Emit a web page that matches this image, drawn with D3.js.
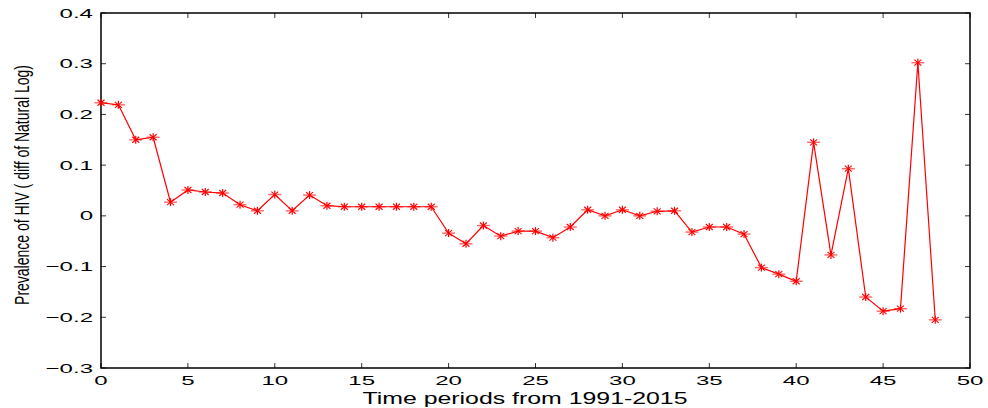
<!DOCTYPE html>
<html>
<head>
<meta charset="utf-8">
<script src="https://cdn.jsdelivr.net/npm/d3@7"></script>
<style>
  body { margin: 0; background: #fff; }
  svg { display: block; }
  text { font-family: "Liberation Sans", Arial, sans-serif; fill: #000; }
</style>
</head>
<body>
<script>
// data (first difference of ln prevalence)
var periods = d3.range(0, 49);
var values = [
  0.223, 0.219, 0.150, 0.155, 0.027, 0.051, 0.047, 0.045, 0.022, 0.010,
  0.042, 0.010, 0.041, 0.020, 0.018, 0.018, 0.018, 0.018, 0.018, 0.018,
  -0.034, -0.055, -0.019, -0.040, -0.030, -0.030, -0.043, -0.022, 0.012, 0.000,
  0.012, 0.000, 0.009, 0.010, -0.032, -0.022, -0.022, -0.036, -0.102, -0.115,
  -0.129, 0.145, -0.077, 0.093, -0.160, -0.188, -0.183, 0.302, -0.205
];
var xTicks = [0, 5, 10, 15, 20, 25, 30, 35, 40, 45, 50];
var yTicks = [-0.3, -0.2, -0.1, 0, 0.1, 0.2, 0.3, 0.4];

var W = 988, H = 408;
var plotL = 101, plotR = 970, plotT = 13, plotB = 368;

var svg = d3.select("body").append("svg")
    .attr("width", W)
    .attr("height", H);

var x = d3.scaleLinear().domain([0, 50]).range([plotL, plotR]);
var y = d3.scaleLinear().domain([-0.3, 0.4]).range([plotB, plotT]);

function fmt(v) {
  if (Math.abs(v) < 1e-9) return "0";
  return d3.format(".1f")(v);
}

// ticks pointing inward on all four sides
var tickLen = 5;
var tickG = svg.append("g").attr("stroke", "#333").attr("stroke-width", 1);
xTicks.forEach(function(t) {
  tickG.append("line").attr("x1", x(t)).attr("x2", x(t)).attr("y1", plotB).attr("y2", plotB - tickLen);
  tickG.append("line").attr("x1", x(t)).attr("x2", x(t)).attr("y1", plotT).attr("y2", plotT + tickLen);
});
yTicks.forEach(function(t) {
  tickG.append("line").attr("x1", plotL).attr("x2", plotL + tickLen).attr("y1", y(t)).attr("y2", y(t));
  tickG.append("line").attr("x1", plotR).attr("x2", plotR - tickLen).attr("y1", y(t)).attr("y2", y(t));
});

// box
svg.append("rect")
    .attr("x", plotL).attr("y", plotT)
    .attr("width", plotR - plotL).attr("height", plotB - plotT)
    .attr("fill", "none").attr("stroke", "#000").attr("stroke-width", 1.5);

// tick labels (wide stretched look)
var stretch = 1.85;
svg.append("g").selectAll("g")
    .data(xTicks)
  .enter().append("g")
    .attr("transform", function(d) { return "translate(" + x(d) + "," + (plotB + 17) + ")scale(" + stretch + ",1)"; })
  .append("text")
    .attr("text-anchor", "middle")
    .style("font-size", "13px")
    .text(function(d) { return d; });

svg.append("g").selectAll("g")
    .data(yTicks)
  .enter().append("g")
    .attr("transform", function(d) { return "translate(" + (plotL - 8) + "," + (y(d) + 4.5) + ")scale(" + stretch + ",1)"; })
  .append("text")
    .attr("text-anchor", "end")
    .style("font-size", "13px")
    .text(fmt);

// axis titles
svg.append("text")
    .attr("x", 525).attr("y", 404)
    .attr("text-anchor", "middle")
    .attr("textLength", 325).attr("lengthAdjust", "spacingAndGlyphs")
    .style("font-size", "16px")
    .text("Time periods from 1991-2015");

// y title is narrow in the original: squeeze it to 240px along its run
var yTitle = svg.append("text")
    .attr("text-anchor", "middle")
    .style("font-size", "20px")
    .text("Prevalence of HIV ( diff of Natural Log)");
var natural = yTitle.node().getComputedTextLength();
yTitle.attr("transform", "translate(29,185)rotate(-90)scale(" + (240 / natural) + ",1)");

// series line
var line = d3.line()
    .x(function(d, i) { return x(periods[i]); })
    .y(function(d) { return y(d); });

svg.append("path")
    .datum(values)
    .attr("fill", "none")
    .attr("stroke", "#ff0000")
    .attr("stroke-width", 1.2)
    .attr("d", line);

// asterisk markers
var marks = svg.append("g").selectAll("g")
    .data(values)
  .enter().append("g")
    .attr("transform", function(d, i) { return "translate(" + x(periods[i]) + "," + y(d) + ")"; })
    .attr("stroke", "#ff0000");

marks.append("line").attr("x1", -6.5).attr("x2", 6.5).attr("y1", 0).attr("y2", 0)
    .attr("stroke-width", 1.4).attr("stroke-opacity", 0.6);
marks.append("line").attr("x1", 0).attr("x2", 0).attr("y1", -4).attr("y2", 4).attr("stroke-width", 1.2);
marks.append("line").attr("x1", -3.5).attr("x2", 3.5).attr("y1", -3).attr("y2", 3).attr("stroke-width", 1.1);
marks.append("line").attr("x1", -3.5).attr("x2", 3.5).attr("y1", 3).attr("y2", -3).attr("stroke-width", 1.1);
</script>
</body>
</html>
